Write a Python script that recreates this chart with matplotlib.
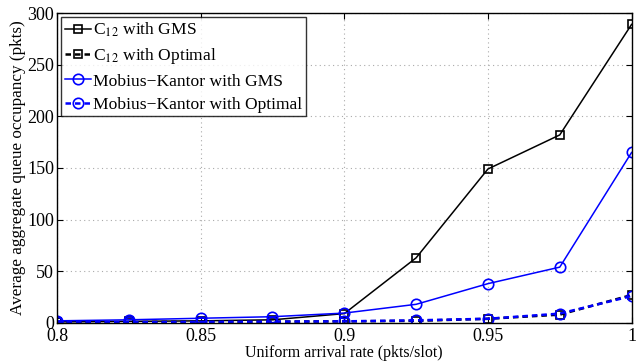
import matplotlib
matplotlib.use("Agg")
import matplotlib.pyplot as plt

x = [0.8, 0.825, 0.85, 0.875, 0.9, 0.925, 0.95, 0.975, 1.0]
c12_gms = [1, 1.5, 2, 3, 9, 63, 149, 182, 289]
c12_opt = [0.5, 0.7, 1, 1.2, 1.5, 2, 4, 8, 27]
mk_gms = [2, 3, 4.5, 6, 9.5, 18, 38, 54, 165]
mk_opt = [0.5, 0.7, 1, 1.2, 1.5, 2.5, 4, 9, 26]

plt.rcParams['font.family'] = ['Liberation Serif', 'DejaVu Serif']
plt.rcParams['mathtext.fontset'] = 'stix'

fig = plt.figure(figsize=(6.37, 3.62), dpi=100)
ax = fig.add_axes([0.0895, 0.108, 0.902, 0.856])

ax.plot(x, c12_gms, '-', color='black', lw=1.1, marker='s', ms=5.5, mfc='none', mew=1.2,
        label=r'C$_{12}$ with GMS')
ax.plot(x, c12_opt, color='black', lw=1.8, ls=(0, (2.2, 1.6)), marker='s', ms=5.5, mfc='none', mew=1.2,
        label=r'C$_{12}$ with Optimal')
ax.plot(x, mk_gms, '-', color='blue', lw=1.1, marker='o', ms=7.5, mfc='none', mew=1.2,
        label='Mobius\u2212Kantor with GMS')
ax.plot(x, mk_opt, color='blue', lw=1.8, ls=(0, (2.2, 1.6)), marker='o', ms=7.5, mfc='none', mew=1.2,
        label='Mobius\u2212Kantor with Optimal')

ax.set_xlim(0.8, 1.0)
ax.set_ylim(0, 300)
ax.set_xticks([0.8, 0.85, 0.9, 0.95, 1.0])
ax.set_xticklabels(['0.8', '0.85', '0.9', '0.95', '1'])
ax.set_yticks([0, 50, 100, 150, 200, 250, 300])
ax.grid(True, linestyle=(0, (1, 3)), color='#aaaaaa', lw=0.8)
ax.tick_params(direction='in', top=True, right=True, labelsize=13, length=4)
ax.tick_params(axis='x', pad=4)
ax.tick_params(axis='y', pad=2)
for s in ax.spines.values():
    s.set_linewidth(1)

ax.set_xlabel('Uniform arrival rate (pkts/slot)', fontsize=11.5, labelpad=0)
ax.set_ylabel('Average aggregate queue occupancy (pkts)', fontsize=12.3, labelpad=1)

leg = ax.legend(loc='upper left', fontsize=12.6, frameon=True, fancybox=False,
                edgecolor='black', handlelength=1.5, handletextpad=0.1,
                borderpad=0.2, labelspacing=0.4, borderaxespad=0.25)
leg.get_frame().set_linewidth(1)

fig.savefig('out.png', dpi=100)
